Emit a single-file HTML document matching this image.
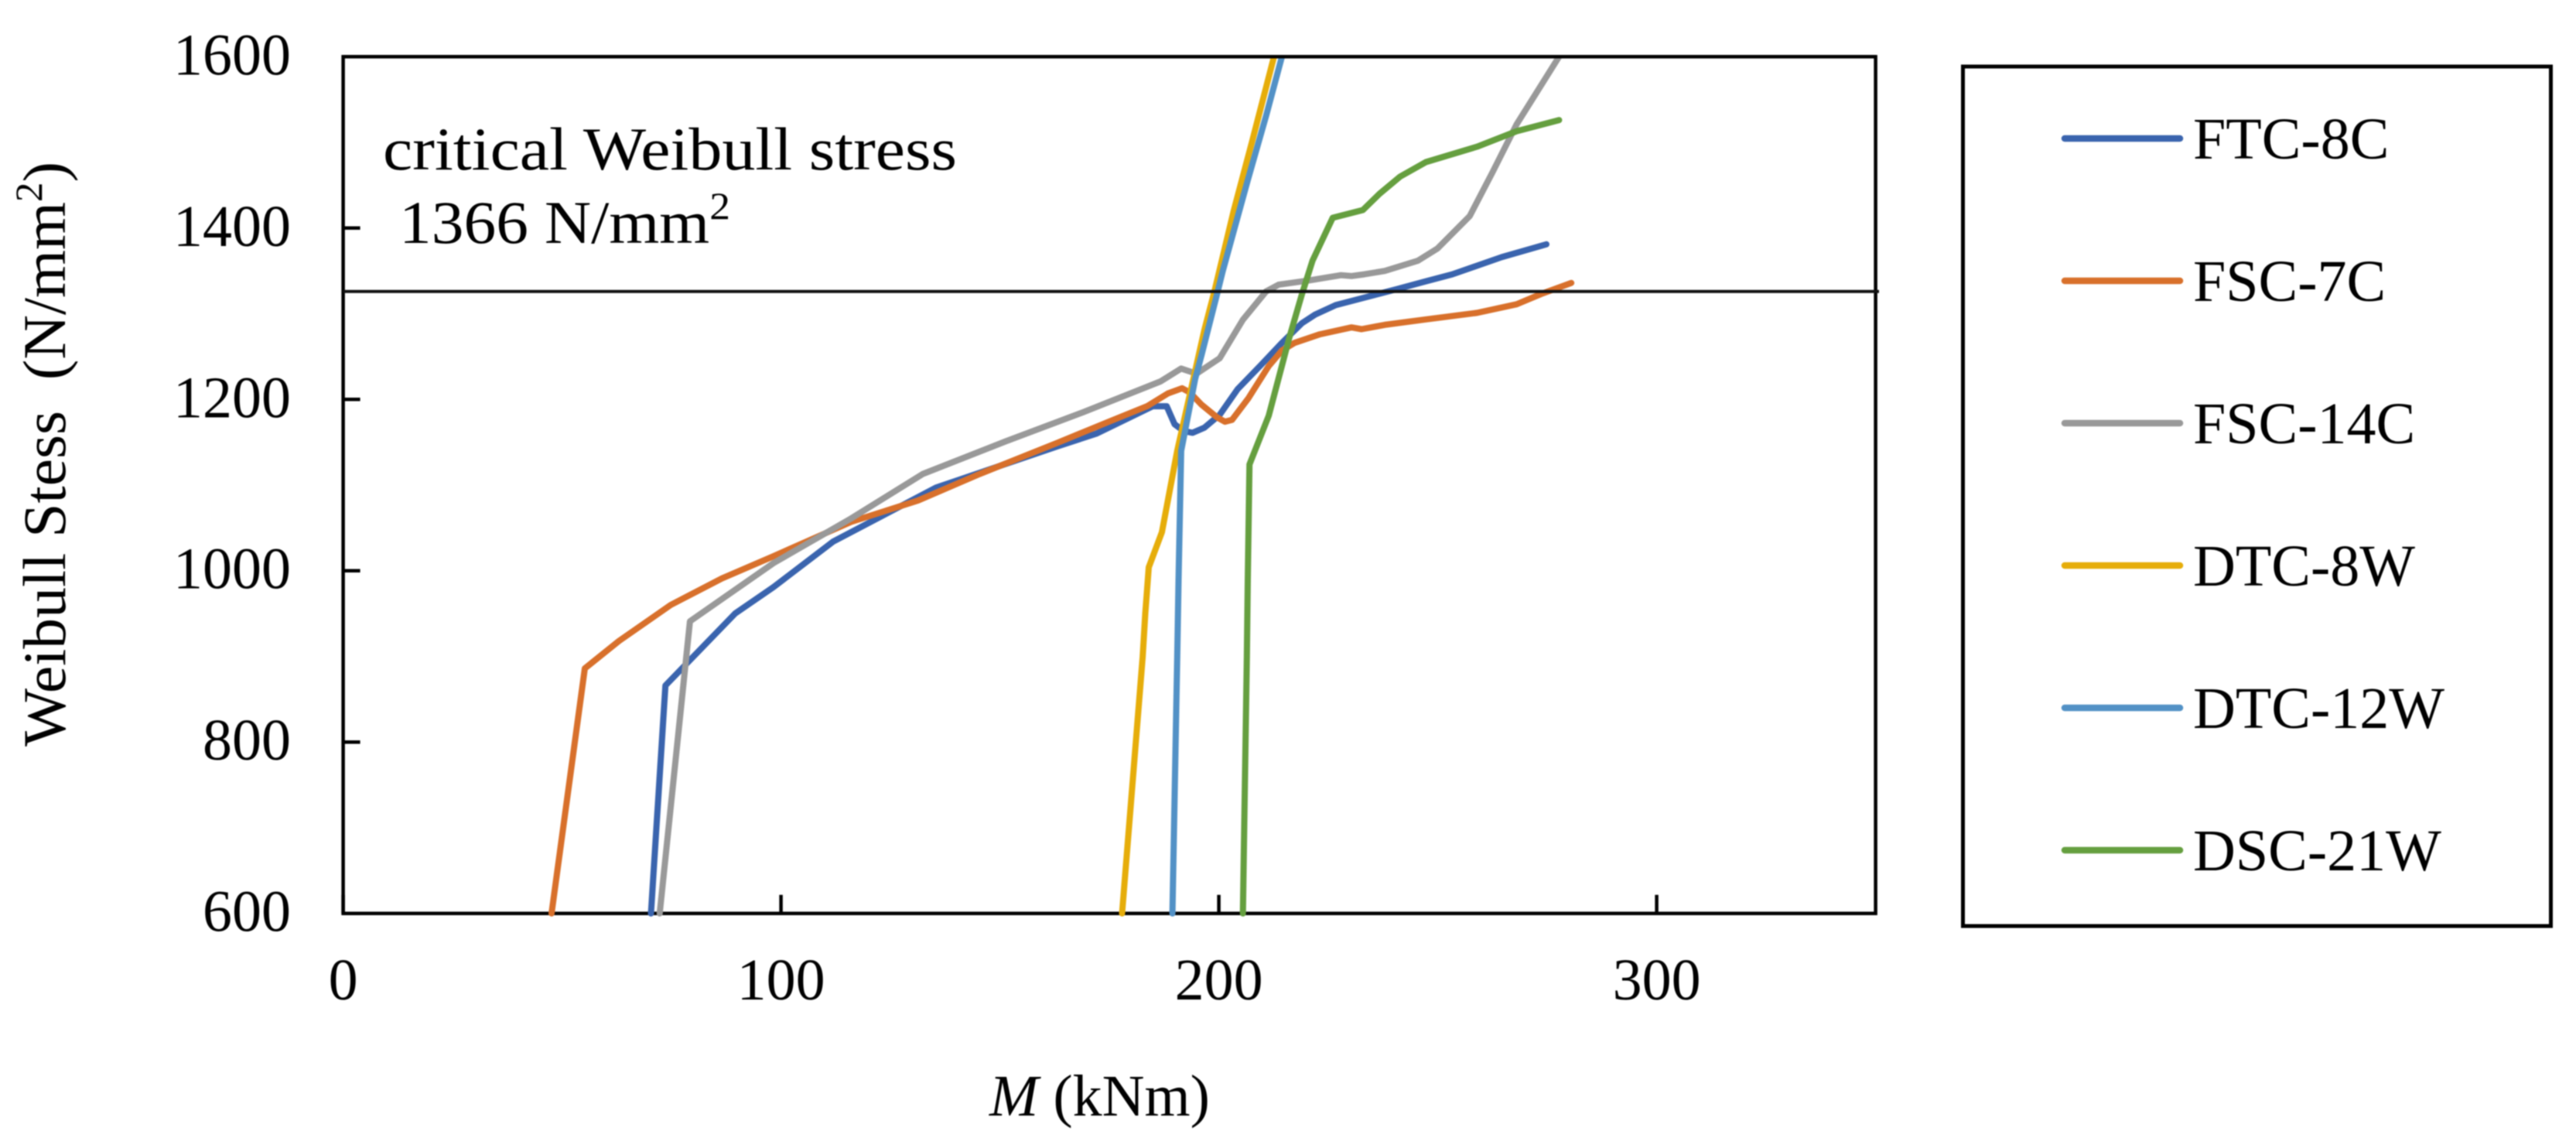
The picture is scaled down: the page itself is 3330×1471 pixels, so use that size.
<!DOCTYPE html>
<html lang="en">
<head>
<meta charset="utf-8">
<title>Weibull stress vs moment chart</title>
<style>
html,body{margin:0;padding:0;background:#fff;width:3330px;height:1471px;overflow:hidden}
svg{display:block;filter:blur(0.8px)}
text{font-family:"Liberation Serif",serif;fill:#000}
</style>
</head>
<body>
<svg id="chart" xmlns="http://www.w3.org/2000/svg" width="3330" height="1471" viewBox="0 0 3330 1471">
<defs><clipPath id="plot-clip"><rect x="441" y="73" width="1985" height="1112"/></clipPath></defs>
<rect x="0" y="0" width="3330" height="1471" fill="#fff"/>
<g id="grid-layer"></g>
<g id="series-layer" clip-path="url(#plot-clip)"></g>
<g id="overlay-layer"></g>
<text x="495" y="219" font-size="78" textLength="742" lengthAdjust="spacingAndGlyphs">critical Weibull stress</text>
<text x="516" y="314" font-size="78" textLength="428" lengthAdjust="spacingAndGlyphs">1366 N/mm<tspan dy="-31" font-size="50">2</tspan></text>
<text transform="translate(84,965) rotate(-90)" font-size="78" textLength="756" lengthAdjust="spacingAndGlyphs" xml:space="preserve">Weibull Stess  (N/mm<tspan dy="-30" font-size="50">2</tspan><tspan dy="30">)</tspan></text>
<text x="1279" y="1442" font-size="76"><tspan font-style="italic">M</tspan> (kNm)</text>
<rect x="2537.5" y="86" width="760" height="1111" fill="none" stroke="#000" stroke-width="5"/>
<g id="legend-layer"></g>
</svg>
<script>
const xTicks = [0, 100, 200, 300];
const yTicks = [600, 800, 1000, 1200, 1400, 1600];
const criticalStress = 1326;

const seriesNames = ["FTC-8C", "FSC-7C", "FSC-14C", "DTC-8W", "DTC-12W", "DSC-21W"];
const seriesColors = ["#3A64AE", "#D8702B", "#999999", "#E6AD0A", "#5291C6", "#659F3F"];

const ftc8cM = [70.3,73.6,89.5,98.3,111.9,135.4,163,172,184.9,188.1,189.9,192,194,196.7,200.2,204.3,209.6,214.4,219,222,226.7,234.9,240.9,246.7,253.3,264.6,274.8];
const ftc8cStress = [600,866,950,981,1034,1097,1145,1160,1192,1192,1171,1163,1161,1167,1182,1212,1240,1266,1289,1299,1310,1321,1329,1337,1346,1366,1381];

const fsc7cM = [47.6,55.2,63,74.8,86.5,98.3,116,131.3,145.4,163,174.9,183.6,188.4,191.6,193.4,196,199.6,201.4,203,206.7,211.4,214.4,217.3,223.1,230.3,232.6,237.9,246.7,259,268,273.6,280.5];
const fsc7cStress = [600,886,918,960,991,1017,1057,1082,1113,1149,1174,1192,1207,1213,1208,1194,1179,1174,1176,1201,1239,1257,1266,1276,1284,1282,1287,1293,1301,1311,1323,1336];

const fsc14cM = [72.3,79.2,98.3,116,132.4,151.3,169,186.7,191.4,194.9,200.2,205.5,210.8,213.7,220.8,227.9,230.3,233.2,237.9,245.5,249.9,257.3,262.5,268,277.7];
const fsc14cStress = [600,941,1009,1061,1113,1151,1185,1221,1236,1230,1248,1293,1326,1334,1339,1345,1344,1346,1350,1362,1376,1414,1465,1521,1600];

const dtc8wM = [177.9,182.6,183.2,184,187,190.5,196.7,199,203.4,207.6,212.6];
const dtc8wStress = [600,899,950,1004,1045,1140,1281,1326,1420,1501,1600];

const dtc12wM = [189.4,190.5,190.8,191.4,194.6,196,199.6,200.9,206.6,210.8,214.4];
const dtc12wStress = [600,899,989,1140,1224,1251,1323,1350,1456,1531,1600];

const dsc21wM = [205.5,206.4,206.6,207,211.4,216.1,219,221.4,226,232.9,236.7,241.4,247.3,259,268,277.7];
const dsc21wStress = [600,899,989,1124,1181,1272,1323,1362,1412,1421,1440,1460,1477,1495,1513,1526];

const seriesM = [ftc8cM, fsc7cM, fsc14cM, dtc8wM, dtc12wM, dsc21wM];
const seriesStress = [ftc8cStress, fsc7cStress, fsc14cStress, dtc8wStress, dtc12wStress, dsc21wStress];

const NS = "http://www.w3.org/2000/svg";
function xScale(v){ return 443.6 + v * 5.66; }
function yScale(v){ return 1180.7 - (v - 600) * 1.1074; }

const grid = document.getElementById("grid-layer");
const seriesLayer = document.getElementById("series-layer");
const overlay = document.getElementById("overlay-layer");
const legend = document.getElementById("legend-layer");

const frame = document.createElementNS(NS, "rect");


frame.setAttribute("x", xScale(0));
frame.setAttribute("y", yScale(1600));
frame.setAttribute("width", xScale(350) - xScale(0));
frame.setAttribute("height", yScale(600) - yScale(1600));
frame.setAttribute("fill", "none");
frame.setAttribute("stroke", "#000");
frame.setAttribute("stroke-width", "4.5");
grid.appendChild(frame);

yTicks.forEach(function(t){
  const mark = document.createElementNS(NS, "line");
  
  
  mark.setAttribute("x1", xScale(0));
  mark.setAttribute("x2", xScale(0) + 22);
  mark.setAttribute("y1", yScale(t));
  mark.setAttribute("y2", yScale(t));
  mark.setAttribute("stroke", "#000");
  mark.setAttribute("stroke-width", "4.5");
  grid.appendChild(mark);
  const label = document.createElementNS(NS, "text");
  
  
  label.setAttribute("x", 376);
  label.setAttribute("y", yScale(t) + 23);
  label.setAttribute("text-anchor", "end");
  label.setAttribute("font-size", "76");
  label.textContent = String(t);
  grid.appendChild(label);
});

xTicks.forEach(function(t){
  const mark = document.createElementNS(NS, "line");
  
  
  mark.setAttribute("x1", xScale(t));
  mark.setAttribute("x2", xScale(t));
  mark.setAttribute("y1", yScale(600));
  mark.setAttribute("y2", yScale(600) - 24);
  mark.setAttribute("stroke", "#000");
  mark.setAttribute("stroke-width", "4.5");
  grid.appendChild(mark);
  const label = document.createElementNS(NS, "text");
  
  
  label.setAttribute("x", xScale(t));
  label.setAttribute("y", 1292);
  label.setAttribute("text-anchor", "middle");
  label.setAttribute("font-size", "76");
  label.textContent = String(t);
  grid.appendChild(label);
});

seriesNames.forEach(function(name, i){
  const ms = seriesM[i];
  const stress = seriesStress[i];
  const pts = ms.map(function(m, k){ return xScale(m).toFixed(1) + "," + yScale(stress[k]).toFixed(1); }).join(" ");
  const line = document.createElementNS(NS, "polyline");
  
  
  line.setAttribute("points", pts);
  line.setAttribute("fill", "none");
  line.setAttribute("stroke", seriesColors[i]);
  line.setAttribute("stroke-width", "8");
  line.setAttribute("stroke-linejoin", "round");
  line.setAttribute("stroke-linecap", "round");
  seriesLayer.appendChild(line);

  const key = document.createElementNS(NS, "line");
  
  
  key.setAttribute("x1", 2669);
  key.setAttribute("x2", 2818);
  key.setAttribute("y1", 179 + i * 184);
  key.setAttribute("y2", 179 + i * 184);
  key.setAttribute("stroke", seriesColors[i]);
  key.setAttribute("stroke-width", "8.5");
  key.setAttribute("stroke-linecap", "round");
  legend.appendChild(key);

  const entry = document.createElementNS(NS, "text");
  
  
  entry.setAttribute("x", 2835);
  entry.setAttribute("y", 205 + i * 184);
  entry.setAttribute("font-size", "76");
  entry.textContent = name;
  legend.appendChild(entry);
});

const criticalLine = document.createElementNS(NS, "line");


criticalLine.setAttribute("x1", xScale(0));
criticalLine.setAttribute("x2", 2429);
criticalLine.setAttribute("y1", yScale(criticalStress));
criticalLine.setAttribute("y2", yScale(criticalStress));
criticalLine.setAttribute("stroke", "#111");
criticalLine.setAttribute("stroke-width", "4");
overlay.appendChild(criticalLine);

const topEdge = document.createElementNS(NS, "line");


topEdge.setAttribute("x1", xScale(0));
topEdge.setAttribute("x2", xScale(350));
topEdge.setAttribute("y1", yScale(1600));
topEdge.setAttribute("y2", yScale(1600));
topEdge.setAttribute("stroke", "#000");
topEdge.setAttribute("stroke-width", "4.5");
overlay.appendChild(topEdge);
</script>
</body>
</html>
